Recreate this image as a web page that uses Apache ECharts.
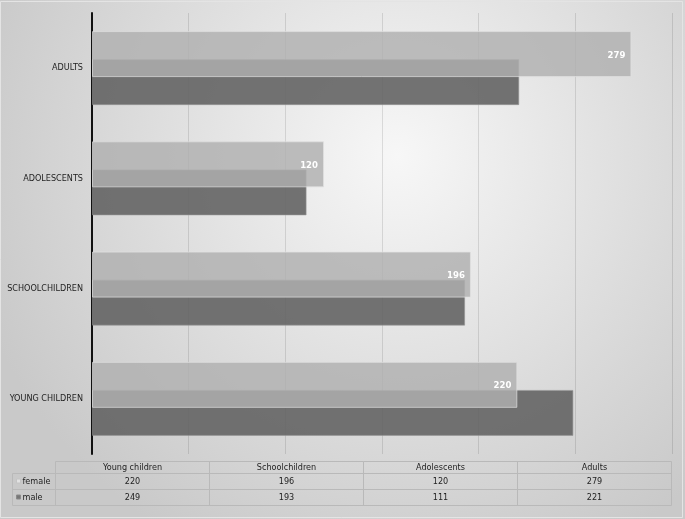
<!DOCTYPE html>
<html>
<head>
<meta charset="utf-8">
<script src="https://cdn.jsdelivr.net/npm/echarts@6/dist/echarts.min.js"></script>
<style>
html,body{margin:0;padding:0;background:#fff;}
#chart{width:685px;height:519px;}
</style>
</head>
<body>
<div id="chart"></div>
<script>
// ---- data ----
var categories = ['YOUNG CHILDREN', 'SCHOOLCHILDREN', 'ADOLESCENTS', 'ADULTS'];
var tableCategories = ['Young children', 'Schoolchildren', 'Adolescents', 'Adults'];
var seriesNames = ['female', 'male'];
var femaleValues = [220, 196, 120, 279];
var maleValues = [249, 193, 111, 221];
var xTicks = [0, 50, 100, 150, 200, 250, 300];

// ---- layout ----
var FONT = '"DejaVu Sans Condensed", "Liberation Sans Narrow", sans-serif';
var gridLeft = 92, gridRight = 672, gridTop = 13, gridBottom = 454;
var tableLeft = 12.5, tableColStart = 55.5, tableRight = 671.5;
var rowY = [461.5, 473.5, 489.5, 505.5];

var chart = echarts.init(document.getElementById('chart'));

var graphics = [];
// outer border
graphics.push({type:'rect', shape:{x:0.5, y:1.5, width:682, height:516}, style:{fill:'none', stroke:'#e4e4e4', lineWidth:1}, silent:true, z:0});

// table
var colW = (tableRight - tableColStart) / tableCategories.length;
var lineColor = '#b9b9b9';
function hline(x1, x2, y){ graphics.push({type:'line', shape:{x1:x1, y1:y, x2:x2, y2:y}, style:{stroke:lineColor, lineWidth:1}, silent:true}); }
function vline(x, y1, y2){ graphics.push({type:'line', shape:{x1:x, y1:y1, x2:x, y2:y2}, style:{stroke:lineColor, lineWidth:1}, silent:true}); }
hline(tableColStart, tableRight, rowY[0]);
hline(tableLeft, tableRight, rowY[1]);
hline(tableLeft, tableRight, rowY[2]);
hline(tableLeft, tableRight, rowY[3]);
vline(tableLeft, rowY[1], rowY[3]);
for (var c = 0; c <= tableCategories.length; c++) {
  vline(tableColStart + c * colW, rowY[0], rowY[3]);
}
function txt(x, y, s, align){
  graphics.push({type:'text', x:x, y:y, silent:true, style:{text:s, fill:'#1e1e1e', font:'9px ' + FONT, textAlign:align||'center', textVerticalAlign:'middle'}});
}
tableCategories.forEach(function(name, i){
  var cx = tableColStart + (i + 0.5) * colW;
  txt(cx, (rowY[0] + rowY[1]) / 2 + 0.5, name);
  txt(cx, (rowY[1] + rowY[2]) / 2, String(femaleValues[i]));
  txt(cx, (rowY[2] + rowY[3]) / 2, String(maleValues[i]));
});
var seriesRows = [[seriesNames[0], '#e2e2e2', '#c4c4c4'], [seriesNames[1], '#777777', '#8a8a8a']];
seriesRows.forEach(function(r, i){
  var cy = (rowY[1 + i] + rowY[2 + i]) / 2;
  graphics.push({type:'rect', shape:{x:16.5, y:cy - 2.5, width:4, height:4}, style:{fill:r[1], stroke:r[2], lineWidth:1}, silent:true});
  txt(22.5, cy, r[0], 'left');
});

var option = {
  animation: false,
  backgroundColor: {
    type: 'radial', x: 0.58, y: 0.3, r: 0.85,
    colorStops: [{offset: 0, color: '#f7f7f7'}, {offset: 1, color: '#c9c9c9'}]
  },
  grid: {left: gridLeft, right: 685 - gridRight, top: gridTop, bottom: 519 - gridBottom, containLabel: false, outerBoundsMode: 'none'},
  xAxis: {
    type: 'value', min: xTicks[0], max: xTicks[xTicks.length - 1], interval: xTicks[1] - xTicks[0],
    axisLine: {show: false}, axisTick: {show: false}, axisLabel: {show: false},
    splitLine: {show: true, lineStyle: {color: 'rgba(0,0,0,0.11)', width: 1}}
  },
  yAxis: {
    type: 'category', data: categories,
    axisLine: {show: true, lineStyle: {color: '#111', width: 2}},
    axisTick: {show: false},
    axisLabel: {color: '#1e1e1e', fontSize: 9, fontFamily: FONT, margin: 9}
  },
  series: [
    {
      name: seriesNames[0], type: 'bar', data: femaleValues, z: 3,
      barWidth: 46, barGap: '-39%',
      itemStyle: {color: 'rgba(176,176,176,0.82)', borderColor: 'rgba(225,225,225,0.7)', borderWidth: 1},
      label: {show: true, position: 'insideRight', distance: 6, color: '#fff', fontWeight: 'bold', fontSize: 9.5, fontFamily: FONT, offset:[0,1]}
    },
    {
      name: seriesNames[1], type: 'bar', data: maleValues, z: 2,
      barWidth: 46, barGap: '-39%',
      itemStyle: {color: 'rgba(100,100,100,0.9)', borderColor: 'rgba(150,150,150,0.6)', borderWidth: 1}
    }
  ],
  graphic: graphics
};
chart.setOption(option);
</script>
</body>
</html>
